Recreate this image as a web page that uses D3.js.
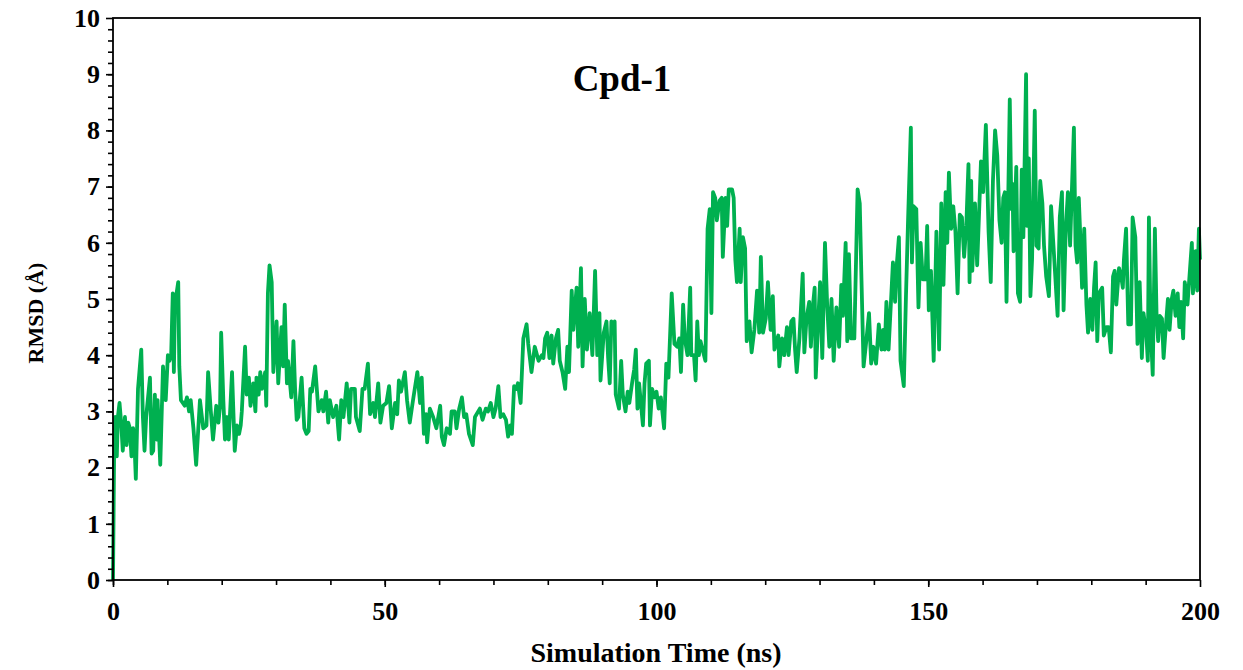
<!DOCTYPE html>
<html>
<head>
<meta charset="utf-8">
<script src="https://cdn.jsdelivr.net/npm/d3@7"></script>
<style>
  body { margin: 0; background: #fff; }
  .lbl { font-family: "Liberation Serif", serif; font-weight: bold; fill: #000; }
</style>
</head>
<body>
<div id="chart"></div>
<script>
// time (ns) and RMSD (A)
var times = [
  0, 0.2, 0.4, 0.7, 0.9, 1.2, 1.5, 1.8, 2.2, 2.5, 2.8, 3.1, 3.4, 3.7, 4.0, 4.2, 4.6, 5.2, 5.5, 5.8,
  6.1, 6.8, 7.1, 7.4, 7.7, 8.0, 8.2, 8.7, 9.2, 9.5, 9.7, 10.1, 10.4, 10.7, 11.0, 11.2, 11.4, 12.0, 12.2, 12.5,
  13.2, 13.6, 14.0, 14.3, 14.8, 15.3, 16.0, 16.6, 17.2, 17.5, 18.0, 18.4, 19.0, 19.4, 19.7, 19.9, 20.3, 20.6, 21.0, 21.3,
  21.9, 22.4, 22.8, 23.2, 23.5, 23.7, 24.3, 24.6, 25.0, 25.3, 25.8, 26.2, 26.4, 26.8, 27.1, 27.4, 28.0, 28.2, 28.5, 28.8,
  29.2, 29.5, 30.1, 30.4, 31.0, 31.3, 31.6, 32.0, 32.2, 32.8, 33.2, 33.5, 33.8, 34.1, 34.7, 35.2, 35.6, 36.0, 36.3, 36.6,
  37.2, 37.8, 38.4, 38.7, 39.2, 39.6, 39.9, 40.5, 41.1, 41.6, 42.0, 42.4, 43.0, 43.5, 43.8, 44.5, 44.7, 45.4, 45.9, 46.3,
  46.9, 47.3, 47.9, 48.2, 48.8, 49.2, 49.7, 50.3, 50.8, 51.3, 51.9, 52.3, 52.6, 53.0, 53.7, 54.1, 54.6, 55.2, 56.0, 56.5,
  56.8, 57.2, 57.6, 57.8, 58.3, 58.9, 59.5, 60.2, 60.5, 60.9, 61.4, 62.0, 62.3, 62.9, 63.2, 63.7, 64.2, 64.6, 65.0, 65.5,
  66.2, 66.6, 67.2, 67.5, 68.0, 68.6, 69.0, 69.5, 70.0, 70.4, 70.9, 71.3, 71.8, 72.3, 72.7, 73.1, 73.4, 73.8, 74.2, 74.5,
  75.0, 75.5, 76.1, 76.4, 77.0, 77.6, 78.3, 78.9, 79.2, 79.5, 79.9, 80.3, 80.7, 81.0, 81.5, 81.9, 82.2, 82.7, 83.2, 83.6,
  83.9, 84.4, 84.7, 85.0, 85.3, 85.6, 86.1, 86.4, 86.8, 87.2, 87.7, 88.2, 88.7, 89.1, 89.5, 89.7, 90.3, 90.8, 91.1, 91.4,
  91.7, 92.0, 92.3, 92.5, 93.1, 93.5, 93.8, 94.3, 94.7, 95.0, 95.5, 95.9, 96.2, 96.5, 96.8, 97.5, 97.8, 98.1, 98.6, 98.8,
  99.2, 99.6, 100.0, 100.4, 100.8, 101.4, 101.8, 102.2, 102.8, 103.3, 103.8, 104.2, 104.5, 104.9, 105.2, 105.7, 106.2, 106.4, 106.9, 107.2,
  107.5, 107.8, 108.1, 108.6, 109.0, 109.4, 109.8, 110.1, 110.4, 110.8, 111.1, 111.6, 112.0, 112.2, 112.7, 113.0, 113.3, 113.9, 114.2, 114.5,
  114.8, 115.3, 115.5, 115.9, 116.3, 116.6, 117.1, 117.5, 118.0, 118.5, 118.9, 119.2, 119.6, 120.1, 120.5, 121.0, 121.4, 121.7, 122.4, 122.6,
  123.1, 123.5, 124.0, 124.3, 124.8, 125.2, 125.5, 125.8, 126.3, 126.9, 127.2, 127.6, 128.1, 128.4, 128.8, 129.1, 129.3, 129.7, 130.1, 130.5,
  131.0, 131.4, 131.8, 132.2, 132.6, 133.1, 133.6, 134.0, 134.3, 134.8, 135.1, 135.4, 135.8, 136.4, 137.0, 137.4, 137.7, 138.1, 138.6, 139.1,
  139.5, 139.9, 140.4, 140.9, 141.4, 141.7, 142.0, 142.3, 142.7, 143.5, 143.9, 144.2, 144.6, 144.9, 145.5, 145.9, 146.3, 146.8, 147.0, 147.3,
  147.8, 148.2, 148.6, 149.0, 149.5, 149.8, 150.1, 150.5, 151.0, 151.5, 152.0, 152.4, 152.8, 153.2, 153.5, 153.8, 154.2, 154.6, 155.0, 155.4,
  155.8, 156.2, 156.6, 157.0, 157.4, 157.6, 157.9, 158.1, 158.6, 159.0, 159.7, 160.1, 160.6, 161.1, 161.5, 161.9, 162.3, 162.7, 163.1, 163.5,
  163.8, 164.1, 164.4, 164.7, 165.0, 165.3, 165.5, 165.7, 166.2, 166.5, 166.9, 167.2, 167.5, 168.0, 168.2, 168.5, 168.8, 169.1, 169.6, 169.9,
  170.3, 170.6, 171.0, 171.3, 171.7, 172.2, 172.6, 173.1, 173.8, 174.2, 174.6, 174.9, 175.3, 175.7, 176.1, 176.8, 177.1, 177.4, 177.7, 178.0,
  178.3, 178.7, 179.1, 179.4, 179.8, 180.2, 180.5, 180.8, 181.1, 181.4, 182.0, 182.3, 182.8, 183.2, 183.6, 184.0, 184.3, 184.6, 185.1, 185.5,
  185.8, 186.0, 186.4, 186.8, 187.3, 187.6, 188.1, 188.5, 188.9, 189.3, 189.6, 190.1, 190.4, 190.6, 190.9, 191.3, 191.7, 192.0, 192.3, 192.6,
  193.0, 193.3, 193.7, 194.1, 194.4, 194.8, 195.1, 195.5, 195.9, 196.2, 196.5, 196.9, 197.2, 197.7, 198.5, 198.7, 199.2, 199.5, 199.8, 200.0
];
var rmsd = [
  0, 2.2, 2.9, 2.2, 2.9, 3.15, 2.8, 2.3, 2.9, 2.4, 2.8, 2.7, 2.2, 2.7, 2.3, 1.8, 3.4, 4.1, 2.9, 2.3,
  2.9, 3.6, 2.25, 2.3, 3.3, 2.5, 3.2, 2.05, 3.8, 3.3, 3.2, 4.0, 3.9, 4.0, 5.1, 3.7, 4.9, 5.3, 3.8, 3.2,
  3.1, 3.25, 3.0, 3.2, 2.7, 2.05, 3.2, 2.7, 2.75, 3.7, 3.0, 2.5, 3.1, 2.8, 3.1, 4.4, 3.2, 2.5, 2.9, 2.5,
  3.7, 2.3, 2.75, 2.6, 2.75, 3.0, 4.15, 3.3, 3.6, 3.1, 3.5, 3.0, 3.6, 3.3, 3.7, 3.4, 3.7, 3.1, 5.1, 5.6,
  5.3, 3.7, 4.6, 3.5, 4.5, 3.8, 4.9, 3.5, 3.9, 3.25, 4.25, 3.4, 2.85, 2.9, 3.6, 2.7, 2.6, 2.65, 3.4, 3.35,
  3.8, 3.0, 3.2, 3.0, 3.35, 2.8, 3.2, 2.9, 3.1, 2.5, 3.2, 2.9, 3.5, 2.8, 3.4, 3.4, 2.9, 2.65, 3.4, 3.4,
  3.85, 2.95, 3.15, 2.9, 3.5, 2.8, 3.1, 3.15, 3.45, 2.7, 3.15, 2.95, 3.55, 3.35, 3.7, 3.2, 2.8, 3.2, 3.7, 3.15,
  3.6, 2.6, 2.95, 2.45, 3.05, 2.9, 2.7, 3.1, 2.55, 2.4, 2.7, 2.6, 3.0, 3.0, 2.7, 3.05, 3.25, 2.9, 2.95, 2.6,
  2.4, 2.9, 3.0, 3.05, 2.85, 3.05, 3.0, 3.15, 2.9, 3.05, 3.45, 2.9, 2.95, 2.85, 2.55, 2.75, 2.6, 3.45, 3.4, 3.5,
  3.15, 4.3, 4.55, 4.2, 3.7, 4.15, 3.9, 4.0, 3.95, 4.3, 4.4, 3.95, 4.35, 3.85, 4.3, 4.45, 3.9, 3.7, 3.4, 4.15,
  3.7, 5.15, 4.45, 4.85, 5.2, 4.15, 5.55, 3.8, 5.0, 4.1, 4.75, 4.0, 5.5, 4.0, 4.75, 3.55, 4.4, 4.6, 3.95, 3.5,
  4.6, 4.55, 4.6, 3.3, 3.05, 3.9, 3.3, 3.0, 3.35, 3.15, 3.5, 3.75, 4.1, 3.05, 3.5, 2.75, 3.5, 3.85, 3.9, 2.75,
  3.4, 3.25, 3.35, 3.05, 3.25, 2.7, 3.85, 3.6, 5.1, 4.2, 4.15, 4.3, 3.7, 4.9, 4.3, 4.0, 5.2, 4.0, 4.0, 3.55,
  4.6, 4.0, 4.25, 4.05, 3.9, 6.25, 6.6, 4.75, 6.9, 6.8, 6.4, 6.75, 6.8, 5.75, 6.8, 6.3, 6.95, 6.95, 6.8, 5.7,
  5.3, 6.25, 5.3, 6.1, 5.9, 4.25, 4.6, 4.05, 4.45, 5.15, 4.4, 5.75, 4.4, 4.65, 5.3, 4.45, 5.05, 4.1, 4.35, 3.8,
  4.3, 4.0, 4.5, 4.0, 4.6, 4.65, 4.1, 3.7, 4.3, 5.45, 4.05, 4.65, 4.95, 4.15, 4.9, 5.2, 3.6, 4.5, 5.3, 3.95,
  6.0, 4.9, 4.15, 5.0, 3.9, 4.85, 4.15, 5.25, 4.7, 6.0, 4.25, 5.8, 4.3, 4.3, 6.95, 6.7, 5.4, 3.8, 4.25, 4.75,
  3.85, 4.15, 3.85, 4.55, 4.1, 4.45, 4.1, 4.95, 4.1, 5.65, 4.95, 5.6, 6.1, 3.9, 3.45, 5.05, 6.45, 8.05, 5.65, 6.65,
  6.6, 4.85, 6.0, 5.35, 5.35, 6.3, 4.8, 5.5, 3.9, 6.2, 4.1, 6.7, 5.25, 6.9, 6.0, 7.25, 6.25, 6.65, 6.2, 5.1,
  6.5, 6.45, 5.75, 6.3, 7.4, 5.3, 7.1, 5.5, 6.7, 5.6, 7.45, 6.9, 8.1, 6.2, 5.3, 7.1, 8.0, 7.55, 6.4, 6.0,
  6.8, 6.9, 4.95, 6.7, 8.55, 6.6, 7.05, 5.85, 7.35, 5.1, 4.95, 7.3, 6.1, 9.0, 6.3, 7.5, 5.05, 5.7, 8.35, 5.95,
  5.9, 7.1, 6.7, 5.95, 5.4, 5.05, 6.65, 5.85, 4.7, 6.45, 6.9, 4.8, 6.25, 6.9, 5.95, 8.05, 5.95, 5.65, 6.8, 6.05,
  5.2, 6.25, 4.9, 4.4, 5.0, 4.45, 5.2, 5.65, 4.25, 5.1, 5.2, 4.35, 4.5, 4.5, 4.05, 5.4, 5.5, 4.9, 5.55, 5.4,
  5.2, 5.7, 6.25, 4.55, 4.55, 6.45, 6.1, 4.2, 5.3, 3.95, 4.75, 4.4, 3.9, 6.45, 4.55, 3.65, 6.25, 4.75, 4.25, 4.7,
  4.65, 3.95, 4.5, 5.0, 4.45, 5.0, 5.15, 4.7, 5.1, 4.5, 4.95, 4.3, 5.3, 4.9, 6.0, 5.1, 5.85, 5.15, 6.25, 5.7
];
var xTicks = [0, 50, 100, 150, 200];
var yTicks = [0, 1, 2, 3, 4, 5, 6, 7, 8, 9, 10];
var title = "Cpd-1";
var xTitle = "Simulation Time (ns)";
var yTitle = "RMSD (Å)";

var width = 1243, height = 670;
var svg = d3.select('#chart').append('svg').attr('width', width).attr('height', height);

var x = d3.scaleLinear().domain([0, 200]).range([113, 1200]);
var y = d3.scaleLinear().domain([0, 10]).range([580, 18]);

var pts = times.map(function (t, i) { return [t, rmsd[i]]; });

// the trace
svg.append('path')
  .datum(pts)
  .attr('d', d3.line().x(function (d) { return x(d[0]); }).y(function (d) { return y(d[1]); }))
  .attr('fill', 'none')
  .attr('stroke', '#00b050')
  .attr('stroke-width', 3.8)
  .attr('stroke-linejoin', 'round');

// minor ticks first, then the labelled ones
var yMinor = svg.append('g').attr('transform', 'translate(113,0)')
  .call(d3.axisLeft(y).tickValues(d3.range(0, 50).map(function (i) { return i / 5; })).tickSize(5).tickFormat(''));
var xMinor = svg.append('g').attr('transform', 'translate(0,580)')
  .call(d3.axisBottom(x).tickValues(d3.range(0, 20).map(function (i) { return i * 10; })).tickSize(5).tickFormat(''));

var yAxis = svg.append('g').attr('transform', 'translate(113,0)')
  .call(d3.axisLeft(y).tickValues(yTicks).tickSize(7).tickSizeOuter(0).tickPadding(6));
var xAxis = svg.append('g').attr('transform', 'translate(0,580)')
  .call(d3.axisBottom(x).tickValues(xTicks).tickSize(7).tickSizeOuter(0).tickPadding(15));

[yMinor, xMinor, yAxis, xAxis].forEach(function (g) {
  g.selectAll('line').attr('stroke', '#000').attr('stroke-width', 1.6);
  g.select('.domain').remove();
  g.selectAll('text').attr('class', 'lbl').style('font-size', '26px');
});

// box round the plot
svg.append('rect')
  .attr('x', 113).attr('y', 18).attr('width', 1087).attr('height', 562)
  .attr('fill', 'none').attr('stroke', '#000').attr('stroke-width', 1.8);

svg.append('text').attr('class', 'lbl')
  .attr('x', 622).attr('y', 91).attr('text-anchor', 'middle')
  .style('font-size', '37px').text(title);

svg.append('text').attr('class', 'lbl')
  .attr('x', 656).attr('y', 662).attr('text-anchor', 'middle')
  .style('font-size', '28px').text(xTitle);

svg.append('text').attr('class', 'lbl')
  .attr('transform', 'translate(43,313) rotate(-90)').attr('text-anchor', 'middle')
  .style('font-size', '22px').text(yTitle);
</script>
</body>
</html>
